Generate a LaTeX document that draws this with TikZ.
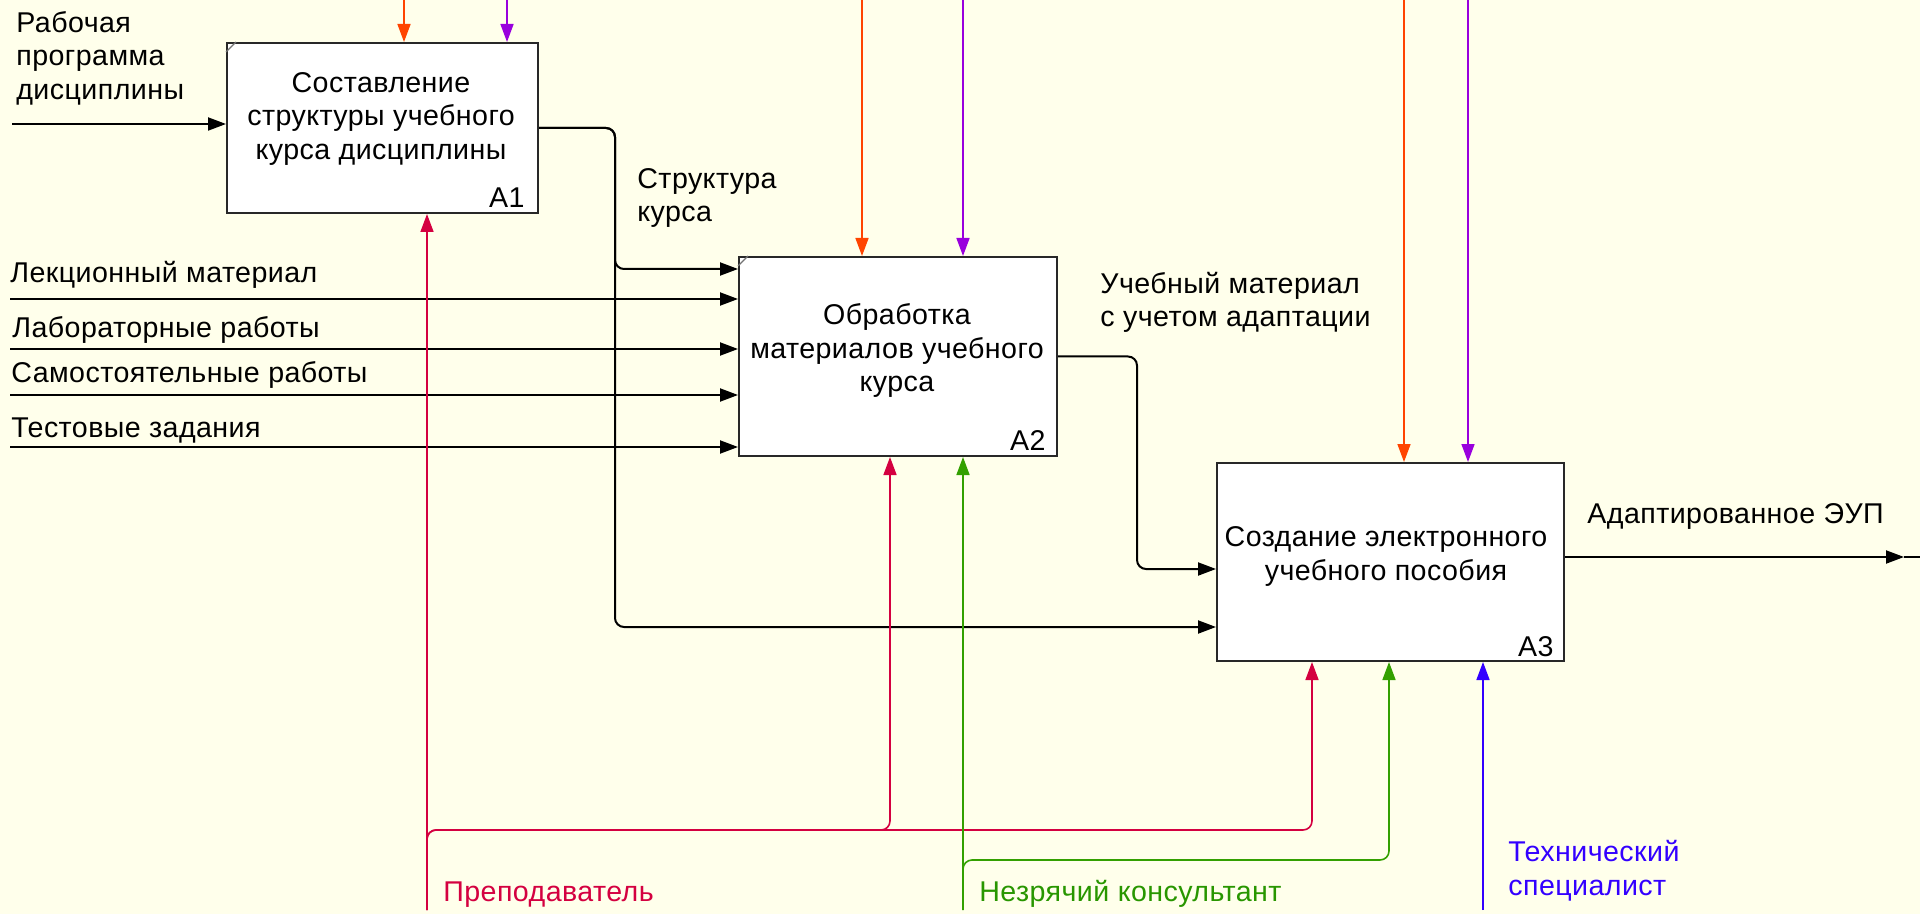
\documentclass[tikz,border=0pt]{standalone}
\usepackage{fontspec}
\setmainfont{Liberation Sans}[LetterSpace=1.5]
\usetikzlibrary{arrows.meta}
\definecolor{bgc}{RGB}{255,255,235}
\definecolor{cor}{RGB}{255,68,0}
\definecolor{cpu}{RGB}{153,0,221}
\definecolor{cre}{RGB}{212,0,64}
\definecolor{cgr}{RGB}{51,160,0}
\definecolor{cgt}{RGB}{40,150,0}
\definecolor{cbl}{RGB}{51,0,255}
\definecolor{cbd}{RGB}{40,40,40}
\begin{document}
\begin{tikzpicture}[x=0.5pt,y=-0.5pt,
  every node/.style={font=\fontsize{14.3pt}{16.75pt}\selectfont},
  fbox/.style={draw=cbd,fill=white,line width=1pt,inner sep=0pt,anchor=north west},
  ttl/.style={inner sep=0pt,align=center,anchor=base},
  lbl/.style={inner sep=0pt,align=left,anchor=base west},
  num/.style={inner sep=0pt,anchor=base east},
  con/.style={line width=1pt,rounded corners=4.5pt,-{Triangle[length=9pt,width=6.5pt]}},
  ccon/.style={con,line width=0.8pt},
  cmark/.style={draw=black!55,line width=0.6pt}
]
\useasboundingbox (0,0) rectangle (1920,914);
\fill[bgc] (0,0) rectangle (1920,914);

% boxes
\node[fbox,minimum width=155.5pt,minimum height=85pt] (A1) at (226,42) {};
\node[fbox,minimum width=159pt,minimum height=99.5pt] (A2) at (738,256) {};
\node[fbox,minimum width=173.5pt,minimum height=99pt] (A3) at (1216,462) {};
\draw[cmark] ([yshift=-5pt]A1.north west) -- ([xshift=5pt]A1.north west);
\draw[cmark] ([yshift=-5pt]A2.north west) -- ([xshift=5pt]A2.north west);

% (base anchor of a multi-line node = baseline of its last line)
\node[ttl] (A1t) at (381,159.5) {Составление\\структуры учебного\\курса дисциплины};
\node[ttl] (A2t) at (897,392) {Обработка\\материалов учебного\\курса};
\node[ttl] (A3t) at (1386,580) {Создание электронного\\учебного пособия};
\node[num] (A1n) at (525,208) {A1};
\node[num] (A2n) at (1046,450) {A2};
\node[num] (A3n) at (1554,656) {A3};

% labels
\node[lbl] (Lrp) at (16,99.5) {Рабочая\\программа\\дисциплины};
\node[lbl] (Lsk) at (637,222) {Структура\\курса};
\node[lbl] (Lum) at (1100,327) {Учебный материал\\с учетом адаптации};
\node[lbl] (Llm) at (10,283) {Лекционный материал};
\node[lbl] (Llr) at (12,338) {Лабораторные работы};
\node[lbl] (Lsr) at (11,382.5) {Самостоятельные работы};
\node[lbl] (Ltz) at (11,437) {Тестовые задания};
\node[lbl] (Lae) at (1587,523) {Адаптированное ЭУП};
\node[lbl,text=cre] (Lpr) at (443,901.5) {Преподаватель};
\node[lbl,text=cgt] (Lnk) at (979,901.5) {Незрячий консультант};
\node[lbl,text=cbl] (Lts) at (1508,895) {Технический\\специалист};

% inputs
\coordinate (i0) at (12,124);
\draw[con] (i0) -- (i0 -| A1.west);
\coordinate (i1) at (10,299);
\coordinate (i2) at (10,349);
\coordinate (i3) at (10,395);
\coordinate (i4) at (10,447);
\draw[con] (i1) -- (i1 -| A2.west);
\draw[con] (i2) -- (i2 -| A2.west);
\draw[con] (i3) -- (i3 -| A2.west);
\draw[con] (i4) -- (i4 -| A2.west);

% structure from A1
\coordinate (s1a) at (615,269);
\coordinate (s1b) at (615,627);
\draw[con] (A1.east) -- (s1a |- A1.east) -- (s1a) -- (A2.west |- s1a);
\draw[con] (A1.east) -- (s1b |- A1.east) -- (s1b) -- (A3.west |- s1b);

% output of A2
\coordinate (s2) at (1137,569);
\draw[con] (A2.east) -- (s2 |- A2.east) -- (s2) -- (A3.west |- s2);

% output of A3
\coordinate (o3) at (1904,557);
\coordinate (o3e) at (1920,557);
\draw[con] (A3.east |- o3) -- (o3);
\draw[line width=1pt] (o3) -- (o3e);

% controls
\coordinate (k1a) at (404,0);
\coordinate (k1b) at (507,0);
\coordinate (k2a) at (862,0);
\coordinate (k2b) at (963,0);
\coordinate (k3a) at (1404,0);
\coordinate (k3b) at (1468,0);
\draw[ccon,cor] (k1a) -- (k1a |- A1.north);
\draw[ccon,cpu] (k1b) -- (k1b |- A1.north);
\draw[ccon,cor] (k2a) -- (k2a |- A2.north);
\draw[ccon,cpu] (k2b) -- (k2b |- A2.north);
\draw[ccon,cor] (k3a) -- (k3a |- A3.north);
\draw[ccon,cpu] (k3b) -- (k3b |- A3.north);

% mechanisms
\coordinate (mr) at (427,910);
\coordinate (mr2) at (890,830);
\coordinate (mr3) at (1312,830);
\draw[ccon,cre] (mr) -- (mr |- A1.south);
\draw[ccon,cre] (mr) -- (mr |- mr2) -- (mr2) -- (mr2 |- A2.south);
\draw[ccon,cre] (mr) -- (mr |- mr3) -- (mr3) -- (mr3 |- A3.south);
\coordinate (mg) at (963,910);
\coordinate (mg3) at (1389,860);
\draw[ccon,cgr] (mg) -- (mg |- A2.south);
\draw[ccon,cgr] (mg) -- (mg |- mg3) -- (mg3) -- (mg3 |- A3.south);
\coordinate (mb) at (1483,910);
\draw[ccon,cbl] (mb) -- (mb |- A3.south);
\end{tikzpicture}
\end{document}
